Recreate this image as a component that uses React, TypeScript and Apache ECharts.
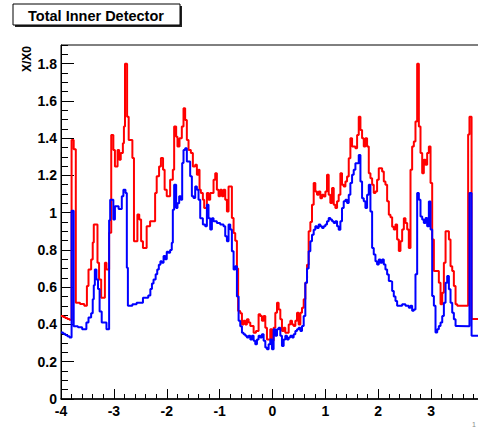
import React, { useEffect, useRef } from 'react';
import * as echarts from 'echarts';

const FONT = "'Liberation Sans', Arial, Helvetica, sans-serif";

const titleText = 'Total Inner Detector';
const yAxisTitle = 'X/X0';
const cornerText = '1';

const xMin = -4;
const xMax = 4;
const yMin = 0;
const yMax = 1.9;

// Red histogram: bin left edges and contents
const redEdges = [
  -4.0, -3.96, -3.92, -3.88, -3.84, -3.8, -3.76, -3.72, -3.64, -3.56, -3.51, -3.48, -3.43, -3.4, -3.38,
  -3.31, -3.28, -3.24, -3.17, -3.14, -3.09, -3.05, -3.01, -2.98, -2.93, -2.9, -2.87, -2.83, -2.81, -2.79,
  -2.75, -2.72, -2.65, -2.62, -2.555, -2.52, -2.485, -2.45, -2.38, -2.315, -2.22, -2.19, -2.145, -2.11,
  -2.07, -2.04, -2.0, -1.936, -1.885, -1.86, -1.822, -1.797, -1.759, -1.715, -1.683, -1.652, -1.62,
  -1.588, -1.544, -1.506, -1.462, -1.43, -1.399, -1.38, -1.355, -1.317, -1.292, -1.241, -1.21, -1.178,
  -1.115, -1.083, -1.052, -1.02, -0.989, -0.957, -0.926, -0.894, -0.862, -0.831, -0.768, -0.736, -0.705,
  -0.673, -0.65, -0.61, -0.578, -0.547, -0.515, -0.484, -0.452, -0.42, -0.357, -0.313, -0.263, -0.231,
  -0.2, -0.168, -0.136, -0.105, -0.042, -0.01, 0.021, 0.053, 0.085, 0.116, 0.148, 0.179, 0.211, 0.242,
  0.306, 0.337, 0.369, 0.4, 0.432, 0.464, 0.495, 0.527, 0.558, 0.59, 0.621, 0.653, 0.684, 0.716, 0.747,
  0.779, 0.81, 0.842, 0.874, 0.905, 0.937, 0.968, 1.0, 1.031, 1.063, 1.094, 1.126, 1.158, 1.189, 1.221,
  1.252, 1.284, 1.315, 1.347, 1.379, 1.41, 1.442, 1.473, 1.505, 1.568, 1.6, 1.631, 1.663, 1.694, 1.726,
  1.757, 1.789, 1.821, 1.852, 1.884, 1.915, 1.947, 1.978, 2.01, 2.073, 2.105, 2.136, 2.168, 2.2, 2.231,
  2.263, 2.294, 2.326, 2.357, 2.389, 2.42, 2.452, 2.484, 2.515, 2.547, 2.578, 2.61, 2.641, 2.673, 2.704,
  2.736, 2.768, 2.799, 2.831, 2.862, 2.894, 2.925, 2.957, 2.989, 3.02, 3.052, 3.146, 3.178, 3.21, 3.241,
  3.273, 3.336, 3.367, 3.399, 3.43, 3.462, 3.494, 3.7, 3.725, 3.765,
];
const redValues = [
  0.445, 0.44, 0.435, 0.43, 0.425, 1.39, 1.34, 0.517, 0.51, 0.5, 0.606, 0.695, 0.749, 0.84, 0.936,
  0.731, 0.642, 0.544, 0.731, 0.695, 0.892, 1.417, 1.337, 1.248, 1.337, 1.284, 1.32, 1.373, 1.462, 1.8,
  1.515, 1.39, 1.293, 0.847, 0.99, 0.963, 0.847, 0.811, 0.927, 0.954, 1.106, 1.195, 1.248, 1.293,
  1.23, 1.123, 1.088, 1.177, 1.23, 1.462, 1.408, 1.355, 1.4, 1.462, 1.56, 1.498, 1.39,
  1.337, 1.32, 1.248, 1.257, 1.203, 1.23, 1.123, 1.105, 1.07, 1.025, 1.105, 1.07, 1.105,
  1.177, 1.212, 1.123, 1.088, 1.123, 1.088, 1.123, 1.07, 1.007, 1.141, 0.972, 0.891, 0.85,
  0.7, 0.472, 0.46, 0.4, 0.42, 0.4, 0.428, 0.41, 0.392, 0.356, 0.365, 0.455, 0.445,
  0.42, 0.445, 0.383, 0.32, 0.374, 0.312, 0.383, 0.463, 0.517, 0.48, 0.428, 0.365, 0.383, 0.356,
  0.4, 0.42, 0.4, 0.392, 0.42, 0.463, 0.4, 0.463, 0.49, 0.535, 0.624, 0.72, 0.9, 0.95, 1.043,
  1.159, 1.114, 1.096, 1.114, 1.078, 1.096, 1.087, 1.114, 1.203, 1.096, 1.052, 1.132, 1.043, 1.025, 1.061,
  1.096, 1.212, 1.15, 1.14, 1.168, 1.194, 1.292, 1.399, 1.355, 1.346, 1.417, 1.515, 1.444, 1.4, 1.355,
  1.4, 1.355, 1.212, 1.185, 1.15, 1.105, 1.114, 1.177, 1.239, 1.221, 1.168, 1.15, 1.061, 0.989, 0.975,
  0.925, 0.91, 0.936, 0.856, 0.794, 0.847, 0.91, 0.97, 0.945, 0.91, 0.811, 1.23, 1.355, 1.382, 1.489,
  1.8, 1.462, 1.32, 1.212, 1.284, 1.257, 1.32, 1.355, 1.159, 0.856, 0.687, 0.624, 0.508, 0.57, 0.731,
  0.9, 0.856, 0.713, 0.687, 0.606, 0.508, 0.5, 1.42, 1.515, 0.43,
];

// Blue histogram: bin left edges and contents
const blueEdges = [
  -4.0, -3.96, -3.92, -3.88, -3.84, -3.8, -3.76, -3.68, -3.6, -3.52, -3.48, -3.43, -3.4, -3.38, -3.36,
  -3.33, -3.3, -3.27, -3.23, -3.14, -3.09, -3.07, -3.01, -2.98, -2.91, -2.85, -2.82, -2.78, -2.755, -2.735,
  -2.65, -2.57, -2.45, -2.35, -2.31, -2.28, -2.25, -2.21, -2.18, -2.15, -2.12, -2.093, -2.06, -2.03,
  -2.0, -1.968, -1.936, -1.905, -1.885, -1.86, -1.822, -1.797, -1.765, -1.734, -1.708, -1.683, -1.652,
  -1.62, -1.557, -1.525, -1.494, -1.462, -1.43, -1.399, -1.367, -1.317, -1.273, -1.241, -1.21, -1.178,
  -1.146, -1.115, -1.052, -0.989, -0.926, -0.894, -0.862, -0.831, -0.799, -0.768, -0.736, -0.705, -0.673,
  -0.641, -0.61, -0.578, -0.547, -0.515, -0.484, -0.452, -0.42, -0.389, -0.357, -0.326, -0.294, -0.263,
  -0.231, -0.2, -0.168, -0.136, -0.105, -0.073, -0.042, -0.01, 0.021, 0.053, 0.085, 0.116, 0.148, 0.179,
  0.211, 0.242, 0.274, 0.306, 0.337, 0.369, 0.4, 0.432, 0.464, 0.495, 0.527, 0.558, 0.59, 0.621, 0.653,
  0.684, 0.716, 0.747, 0.779, 0.81, 0.842, 0.874, 0.905, 0.937, 0.968, 1.0, 1.031, 1.063, 1.094, 1.126,
  1.158, 1.189, 1.221, 1.252, 1.284, 1.315, 1.347, 1.379, 1.41, 1.442, 1.473, 1.505, 1.536, 1.568, 1.631,
  1.663, 1.694, 1.726, 1.757, 1.789, 1.821, 1.852, 1.884, 1.915, 1.947, 1.978, 2.01, 2.041, 2.073, 2.105,
  2.136, 2.168, 2.2, 2.231, 2.263, 2.294, 2.326, 2.357, 2.452, 2.515, 2.578, 2.61, 2.641, 2.673, 2.704,
  2.736, 2.768, 2.799, 2.831, 2.862, 2.894, 2.925, 2.957, 2.989, 3.02, 3.052, 3.083, 3.115, 3.146, 3.178,
  3.21, 3.241, 3.273, 3.304, 3.336, 3.367, 3.399, 3.43, 3.462, 3.494, 3.725, 3.765,
];
const blueValues = [
  0.357, 0.35, 0.343, 0.337, 0.33, 1.01, 0.39, 0.385, 0.375, 0.41, 0.437, 0.46, 0.535, 0.61, 0.695,
  0.642, 0.59, 0.47, 0.41, 0.374, 0.96, 1.07, 0.963, 1.034, 1.02, 1.088, 1.123, 1.105, 0.705, 0.5,
  0.508, 0.517, 0.544, 0.555, 0.59, 0.62, 0.642, 0.67, 0.695, 0.72, 0.74, 0.731, 0.767, 0.75,
  0.79, 0.785, 0.8, 0.838, 1.016, 1.15, 1.025, 1.05, 1.088, 1.07, 1.266, 1.337, 1.346,
  1.275, 1.195, 1.088, 1.079, 1.14, 1.123, 1.07, 0.97, 0.936, 0.927, 1.043, 0.97, 0.91,
  0.97, 0.954, 0.945, 0.936, 0.927, 0.874, 0.847, 0.936, 0.91, 0.793, 0.695, 0.713, 0.55,
  0.42, 0.39, 0.356, 0.348, 0.339, 0.33, 0.339, 0.32, 0.339, 0.312, 0.294, 0.32, 0.339,
  0.33, 0.348, 0.312, 0.276, 0.267, 0.294, 0.32, 0.267, 0.374, 0.339, 0.374, 0.383, 0.339, 0.285,
  0.32, 0.339, 0.32, 0.33, 0.339, 0.33, 0.348, 0.365, 0.374, 0.383, 0.365, 0.392, 0.445, 0.624, 0.7,
  0.793, 0.847, 0.882, 0.909, 0.927, 0.918, 0.936, 0.927, 0.918, 0.927, 0.936, 0.954, 0.971, 0.963, 0.954,
  0.945, 0.954, 0.927, 0.909, 0.954, 1.025, 1.061, 1.07, 1.052, 1.096, 1.159, 1.203, 1.23, 1.265, 1.31,
  1.168, 1.078, 1.061, 1.025, 1.096, 1.15, 1.007, 0.811, 0.776, 0.74, 0.722, 0.749, 0.731, 0.749, 0.722,
  0.695, 0.668, 0.633, 0.63, 0.58, 0.55, 0.526, 0.5, 0.508, 0.5, 0.49, 0.5, 0.473, 0.48, 0.669,
  1.105, 1.07, 0.98, 0.963, 0.945, 0.972, 0.927, 1.06, 0.91, 0.553, 0.5, 0.357, 0.374, 0.392, 0.41,
  0.446, 0.517, 0.624, 0.66, 0.589, 0.517, 0.463, 0.428, 0.392, 0.39, 1.105, 0.34,
];

function toSteps(edges: number[], values: number[], end: number) {
  const pts: [number, number][] = edges.map((e, i) => [e, values[i]]);
  pts.push([end, values[values.length - 1]]);
  return pts;
}

export default function App() {
  const ref = useRef<HTMLDivElement>(null);
  useEffect(() => {
    if (!ref.current) return;
    const chart = echarts.init(ref.current, null, { renderer: 'svg' });
    const labelStyle = {
      color: '#000',
      fontFamily: FONT,
      fontWeight: 'bold' as const,
      fontSize: 14,
    };
    chart.setOption({
      animation: false,
      backgroundColor: '#fff',
      grid: {
        left: 61,
        top: 45,
        right: 1,
        bottom: 37,
        show: true,
        borderColor: '#000',
        borderWidth: 1,
        backgroundColor: 'transparent',
      },
      xAxis: [
        {
          type: 'value',
          min: xMin,
          max: xMax,
          interval: 1,
          position: 'bottom',
          axisLine: { show: true, onZero: false, lineStyle: { color: '#000', width: 1.5 } },
          axisTick: { show: true, inside: true, length: 10, lineStyle: { color: '#000', width: 1 } },
          axisLabel: { ...labelStyle, margin: 5, showMaxLabel: false },
          splitLine: { show: false },
        },
        {
          type: 'value',
          min: xMin,
          max: xMax,
          interval: 0.2,
          position: 'bottom',
          axisLine: { show: false, onZero: false },
          axisTick: { show: true, inside: true, length: 5, lineStyle: { color: '#000', width: 1 } },
          axisLabel: { show: false },
          splitLine: { show: false },
        },
      ],
      yAxis: [
        {
          type: 'value',
          min: yMin,
          max: yMax,
          interval: 0.2,
          position: 'left',
          axisLine: { show: true, onZero: false, lineStyle: { color: '#000', width: 1 } },
          axisTick: { show: true, inside: true, length: 13, lineStyle: { color: '#000', width: 1 } },
          axisLabel: {
            ...labelStyle,
            margin: 4,
            showMaxLabel: false,
            formatter: (v: number) => String(Math.round(v * 10) / 10),
          },
          splitLine: { show: false },
        },
        {
          type: 'value',
          min: yMin,
          max: yMax,
          interval: 0.05,
          position: 'left',
          axisLine: { show: false, onZero: false },
          axisTick: { show: true, inside: true, length: 7, lineStyle: { color: '#000', width: 1 } },
          axisLabel: { show: false },
          splitLine: { show: false },
        },
      ],
      series: [
        {
          type: 'line',
          step: 'end',
          xAxisIndex: 0,
          yAxisIndex: 0,
          data: toSteps(redEdges, redValues, xMax),
          symbol: 'none',
          lineStyle: { color: '#ff0000', width: 2 },
          itemStyle: { color: '#ff0000' },
          silent: true,
        },
        {
          type: 'line',
          step: 'end',
          xAxisIndex: 0,
          yAxisIndex: 0,
          data: toSteps(blueEdges, blueValues, xMax),
          symbol: 'none',
          lineStyle: { color: '#0000ff', width: 2 },
          itemStyle: { color: '#0000ff' },
          silent: true,
        },
      ],
      graphic: [
        {
          type: 'rect',
          shape: { x: 15, y: 6, width: 167, height: 21 },
          style: { fill: '#222' },
          silent: true,
        },
        {
          type: 'rect',
          shape: { x: 13, y: 4, width: 167, height: 21 },
          style: { fill: '#fff', stroke: '#000', lineWidth: 1 },
          silent: true,
        },
        {
          type: 'text',
          x: 96,
          y: 15.5,
          style: {
            text: titleText,
            fill: '#000',
            font: `bold 14.5px ${FONT}`,
            textAlign: 'center',
            textVerticalAlign: 'middle',
          },
          silent: true,
        },
        {
          type: 'text',
          x: 27,
          y: 46,
          rotation: Math.PI / 2,
          style: {
            text: yAxisTitle,
            fill: '#000',
            font: `bold 12px ${FONT}`,
            textAlign: 'right',
            textVerticalAlign: 'middle',
          },
          silent: true,
        },
        {
          type: 'text',
          x: 474,
          y: 424,
          style: {
            text: cornerText,
            fill: '#888',
            font: `7px ${FONT}`,
            textAlign: 'center',
            textVerticalAlign: 'middle',
          },
          silent: true,
        },
      ],
    });
    return () => chart.dispose();
  }, []);
  return (
    <div
      style={{
        position: 'absolute',
        left: 0,
        top: 0,
        width: 478,
        height: 436,
        overflow: 'hidden',
        background: '#fff',
      }}
    >
      <div ref={ref} style={{ width: 485, height: 436 }} />
    </div>
  );
}
